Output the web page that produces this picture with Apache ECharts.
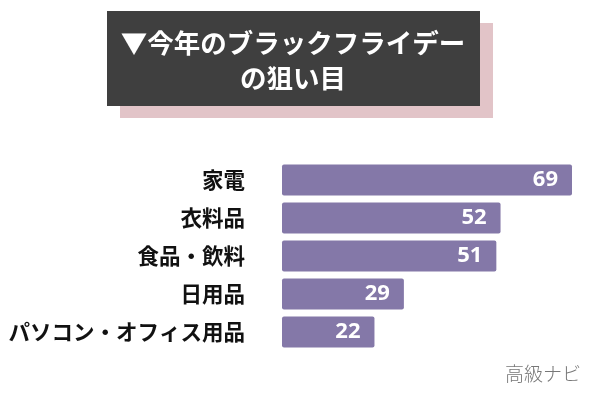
<!DOCTYPE html>
<html><head><meta charset="utf-8">
<script src="https://cdn.jsdelivr.net/npm/echarts@6/dist/echarts.min.js"></script>
<style>html,body{margin:0;padding:0;background:#fff}#c{width:600px;height:400px}</style>
</head><body><div id="c"></div>
<script>
const categories = ['家電', '衣料品', '食品・飲料', '日用品', 'パソコン・オフィス用品'];
const values = [69, 52, 51, 29, 22];
const titleLines = ['▼今年のブラックフライデー', 'の狙い目'];
const credit = '高級ナビ';

const chart = echarts.init(document.getElementById('c'), null, {renderer: 'canvas'});
chart.setOption({
  backgroundColor: '#ffffff',
  animation: false,
  grid: {left: 282, top: 161, width: 290, height: 190, containLabel: false},
  xAxis: {type: 'value', min: 0, max: 69, show: false},
  yAxis: {
    type: 'category', data: categories, inverse: true,
    axisLine: {show: false}, axisTick: {show: false},
    axisLabel: {margin: 37, color: '#111', fontSize: 21.5, fontWeight: 'bold',
      fontFamily: '"Noto Sans CJK JP", sans-serif'}
  },
  series: [{
    type: 'bar', data: values, barWidth: 31,
    itemStyle: {color: '#8478a8', borderRadius: 2},
    label: {show: true, position: 'insideRight', distance: 14, color: '#fff',
      fontSize: 22, fontWeight: 'bold', fontFamily: '"Open Sans", sans-serif'}
  }],
  graphic: [
    {type: 'rect', shape: {x: 120, y: 23, width: 373, height: 95}, style: {fill: '#e2c4c8'}, z: 1},
    {type: 'rect', shape: {x: 107, y: 11, width: 373, height: 95}, style: {fill: '#3f3f3f'}, z: 2},
    {type: 'text', x: 293, y: 43, z: 3, style: {text: titleLines[0], fill: '#fff', fontSize: 26.5, fontWeight: 'bold',
      fontFamily: '"Noto Sans CJK JP", sans-serif', align: 'center', verticalAlign: 'middle'}},
    {type: 'text', x: 293, y: 78, z: 3, style: {text: titleLines[1], fill: '#fff', fontSize: 26.5, fontWeight: 'bold',
      fontFamily: '"Noto Sans CJK JP", sans-serif', align: 'center', verticalAlign: 'middle'}},
    {type: 'text', x: 581, y: 374, z: 3, style: {text: credit, fill: '#777', fontSize: 19,
      fontFamily: '"Noto Sans CJK JP", serif', fontWeight: 300, align: 'right', verticalAlign: 'middle'}}
  ]
});
</script></body></html>
